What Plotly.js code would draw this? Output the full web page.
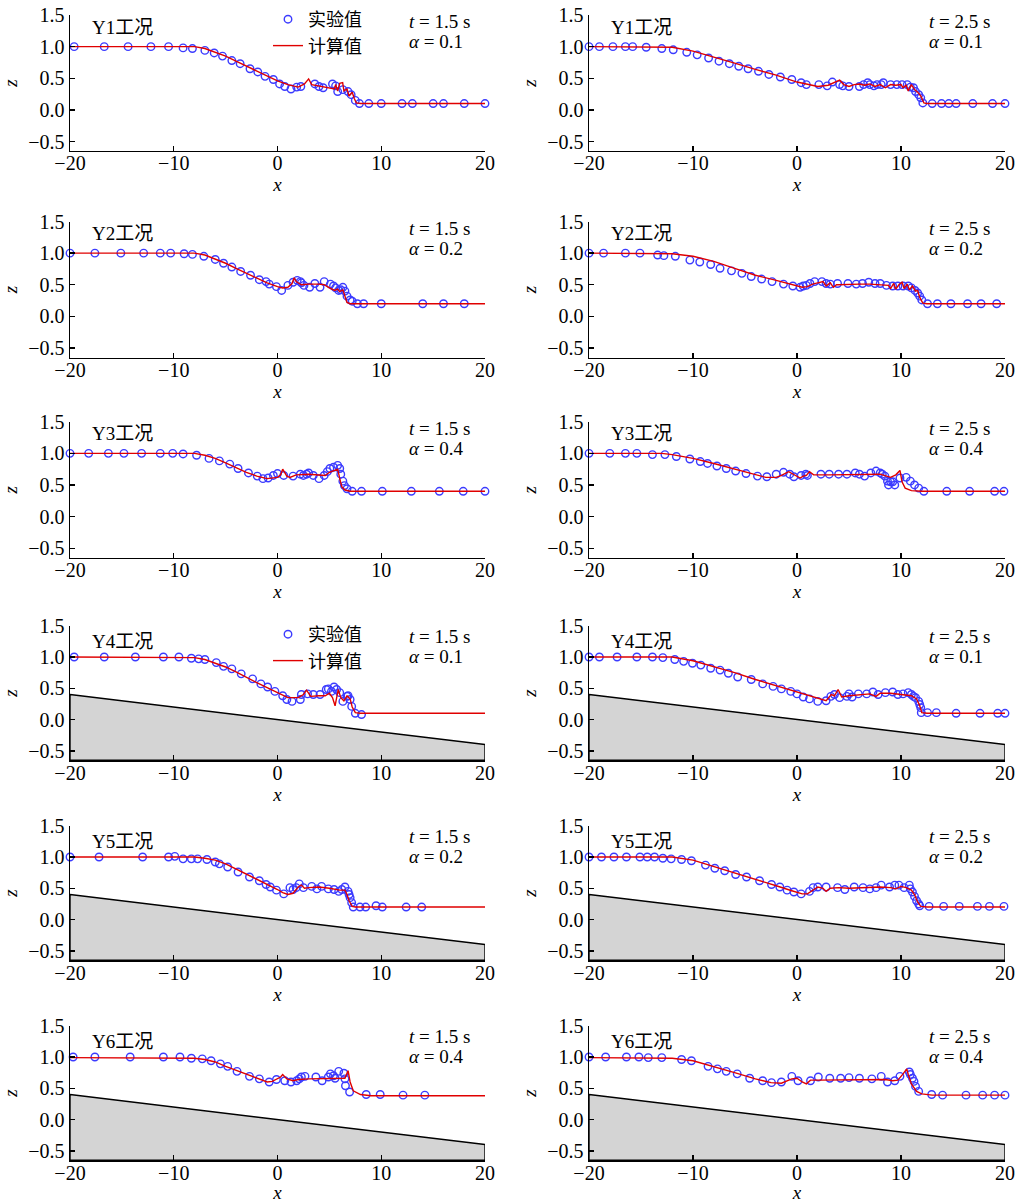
<!DOCTYPE html>
<html>
<head>
<meta charset="utf-8">
<script src="https://cdn.plot.ly/plotly-3.0.1.min.js"></script>
<style>html,body{margin:0;padding:0;background:#fff;}</style>
</head>
<body>
<div id="chart" style="width:1017px;height:1203px;"></div>
<script>
// ---------------- data ----------------
const caseLabels = ['Y1工况','Y2工况','Y3工况','Y4工况','Y5工况','Y6工况'];
const timeLabels = ['1.5','2.5'];
const alphaLabels = ['0.1','0.2','0.4','0.1','0.2','0.4'];
const xTicks = [-20,-10,0,10,20];
const zTicks = [-0.5,0,0.5,1.0,1.5];
const bedX = [-20, 20];
const bedZ = [0.4, -0.4];
const bedFloor = -0.65;

// Y1, t = 1.5 s
const y1_t15_exp_x = [-19.6,-16.7,-14.4,-12.2,-10.5,-9.1,-8.2,-7.0,-6.1,-5.3,-4.4,-3.6,-2.65,-1.9,-1.2,-0.4,0.2,0.7,1.3,1.85,2.25,3.6,4.0,4.4,5.3,5.6,5.8,6.3,6.8,7.1,7.5,7.9,8.8,10.0,12.0,13.0,15.0,16.0,18.0,20.0];
const y1_t15_exp_z = [1.0,1.0,1.0,1.0,1.0,0.98,0.97,0.94,0.90,0.85,0.78,0.73,0.65,0.60,0.53,0.48,0.41,0.37,0.33,0.36,0.37,0.41,0.37,0.35,0.41,0.38,0.29,0.32,0.29,0.24,0.15,0.10,0.10,0.10,0.10,0.10,0.10,0.10,0.10,0.10];
const y1_t15_cal_x = [-20,-8,-7,-6,-5,-4,-3,-2,-1,0,1,2,2.6,3.0,3.3,4,5,5.5,5.6,5.8,6.0,6.28,6.4,6.7,6.9,7.2,7.4,7.6,8,20];
const y1_t15_cal_z = [1.0,1.0,0.97,0.91,0.85,0.77,0.69,0.61,0.53,0.46,0.40,0.36,0.41,0.49,0.40,0.38,0.34,0.33,0.40,0.30,0.42,0.43,0.30,0.33,0.22,0.28,0.18,0.11,0.10,0.10];

// Y1, t = 2.5 s
const y1_t25_exp_x = [-20,-19.0,-17.7,-16.5,-15.8,-14.5,-13.0,-11.9,-10.6,-9.6,-8.5,-7.5,-6.5,-5.6,-4.7,-3.7,-2.7,-1.6,-0.5,0.4,0.9,2.1,2.9,3.4,4.1,4.4,5.0,6.0,6.4,6.8,7.0,7.4,7.7,8.1,8.3,9.0,9.6,10.1,10.6,10.9,11.2,11.4,11.7,11.9,12.1,13.0,13.9,14.6,15.3,16.9,18.8,20.0];
const y1_t25_exp_z = [1.0,1.0,1.0,1.0,1.0,0.99,0.97,0.95,0.91,0.87,0.82,0.77,0.73,0.69,0.65,0.61,0.56,0.52,0.48,0.43,0.40,0.40,0.38,0.44,0.40,0.38,0.37,0.37,0.40,0.43,0.40,0.38,0.40,0.40,0.43,0.40,0.40,0.40,0.40,0.36,0.35,0.29,0.24,0.19,0.11,0.10,0.10,0.10,0.10,0.10,0.10,0.10];
const y1_t25_cal_x = [-20,-12,-10,-8,-6,-4,-2,0,1,2,3,3.6,4.1,4.5,5,5.5,6,6.5,7,7.5,8,8.5,9,9.5,10,10.2,10.5,10.7,11.0,11.3,11.6,11.9,12.2,12.5,20];
const y1_t25_cal_z = [1.0,0.99,0.93,0.84,0.74,0.64,0.55,0.44,0.40,0.37,0.39,0.44,0.47,0.40,0.37,0.40,0.41,0.39,0.41,0.37,0.40,0.35,0.40,0.39,0.40,0.35,0.39,0.30,0.40,0.32,0.28,0.22,0.11,0.10,0.10];

// Y2, t = 1.5 s
const y2_t15_exp_x = [-20,-17.6,-15.1,-12.9,-11.3,-10.3,-9.0,-8.2,-7.1,-6.0,-5.2,-4.4,-3.55,-2.6,-1.75,-1.1,-0.8,-0.1,0.4,1.0,1.5,1.9,2.2,2.3,2.55,3.1,3.6,4.1,4.5,5.1,5.4,5.6,5.9,6.1,6.3,6.5,6.7,7.0,7.2,7.7,8.3,10.0,14.0,16.0,18.0];
const y2_t15_exp_z = [1.0,1.0,1.0,1.0,1.0,1.0,0.99,0.98,0.95,0.90,0.84,0.78,0.71,0.65,0.58,0.55,0.51,0.47,0.41,0.49,0.54,0.57,0.55,0.53,0.49,0.46,0.52,0.46,0.55,0.51,0.48,0.45,0.41,0.42,0.46,0.40,0.32,0.26,0.24,0.20,0.20,0.20,0.20,0.20,0.20];
const y2_t15_cal_x = [-20,-8,-7,-6,-5,-4,-3,-2,-1,0,0.5,1.0,1.4,1.6,1.8,2.3,3,4,4.5,5,5.5,5.8,6.0,6.3,6.5,6.7,7.0,20];
const y2_t15_cal_z = [1.0,1.0,0.97,0.91,0.84,0.76,0.68,0.61,0.53,0.47,0.45,0.46,0.52,0.61,0.55,0.50,0.51,0.51,0.50,0.45,0.41,0.43,0.39,0.42,0.30,0.22,0.20,0.20];

// Y2, t = 2.5 s
const y2_t25_exp_x = [-20,-18.6,-16.5,-15.1,-13.4,-12.8,-11.7,-10.3,-9.35,-8.3,-7.4,-6.3,-5.3,-4.4,-3.4,-2.4,-1.3,-0.4,0.3,0.6,0.9,1.25,1.7,2.4,2.8,3.2,3.9,4.9,5.7,6.3,6.9,7.5,8.0,8.6,9.2,9.7,10.2,10.7,11.0,11.35,11.6,11.8,12.0,12.55,13.5,14.8,16.4,17.7,19.2];
const y2_t25_exp_z = [1.0,1.0,1.0,1.0,0.97,0.96,0.95,0.89,0.86,0.82,0.76,0.72,0.68,0.63,0.59,0.55,0.51,0.48,0.46,0.48,0.49,0.52,0.55,0.55,0.52,0.51,0.52,0.52,0.51,0.52,0.54,0.52,0.52,0.49,0.48,0.48,0.48,0.48,0.45,0.41,0.37,0.32,0.26,0.20,0.20,0.20,0.20,0.20,0.20];
const y2_t25_cal_x = [-20,-13,-12,-10,-8,-6,-4,-2,0,0.5,1.0,1.5,2.0,2.5,2.8,3.2,3.5,3.8,4,5,6,7,8,8.8,9.0,9.3,9.5,9.8,10.1,10.3,10.6,10.8,11.1,11.4,11.6,11.8,12.1,12.5,20];
const y2_t25_cal_z = [1.0,1.0,0.99,0.95,0.87,0.76,0.65,0.57,0.49,0.46,0.47,0.51,0.53,0.55,0.48,0.53,0.46,0.50,0.50,0.51,0.51,0.51,0.50,0.49,0.44,0.52,0.43,0.50,0.54,0.44,0.51,0.42,0.48,0.40,0.41,0.30,0.21,0.20,0.20];

// Y3, t = 1.5 s
const y3_t15_exp_x = [-20,-18.2,-16.3,-14.8,-13.1,-11.3,-10.1,-9.1,-7.8,-6.6,-5.6,-4.6,-3.8,-2.8,-1.95,-1.4,-0.9,-0.4,0.0,0.6,1.5,2.2,2.5,2.8,3.0,3.45,4.0,4.5,4.8,5.05,5.4,5.8,6.0,6.1,6.3,6.45,6.7,7.2,8.1,10.1,12.9,15.6,17.9,20.0];
const y3_t15_exp_z = [1.0,1.0,1.0,1.0,1.0,1.0,1.0,0.99,0.97,0.92,0.88,0.83,0.76,0.69,0.64,0.60,0.61,0.65,0.68,0.65,0.64,0.67,0.65,0.67,0.69,0.65,0.60,0.65,0.71,0.76,0.78,0.81,0.76,0.67,0.56,0.49,0.44,0.40,0.40,0.40,0.40,0.40,0.40,0.40];
const y3_t15_cal_x = [-20,-8,-7,-6,-5,-4,-3,-2,-1,0,0.3,0.5,0.9,1.2,1.8,3,4,4.6,5.0,5.5,5.8,6.0,6.2,6.5,7,20];
const y3_t15_cal_z = [1.0,1.0,0.97,0.92,0.85,0.77,0.70,0.64,0.60,0.62,0.66,0.75,0.64,0.62,0.66,0.67,0.66,0.65,0.70,0.73,0.75,0.60,0.47,0.42,0.40,0.40];

// Y3, t = 2.5 s
const y3_t25_exp_x = [-20,-18.0,-16.5,-15.4,-13.9,-12.7,-11.6,-10.3,-9.3,-8.6,-7.7,-6.8,-5.9,-4.9,-3.8,-2.9,-2.0,-1.3,-0.7,-0.3,0.4,0.85,1.0,2.3,3.1,4.0,4.8,5.6,6.0,6.5,7.1,7.6,8.0,8.2,8.45,8.7,8.8,9.0,9.2,9.4,9.9,10.5,10.9,11.3,11.7,12.2,14.4,16.6,19.0,19.9];
const y3_t25_exp_z = [1.0,1.0,1.0,1.0,0.98,0.98,0.95,0.91,0.87,0.84,0.80,0.76,0.72,0.68,0.64,0.63,0.67,0.70,0.67,0.63,0.65,0.67,0.65,0.67,0.67,0.67,0.67,0.69,0.67,0.64,0.69,0.72,0.69,0.67,0.64,0.56,0.50,0.55,0.55,0.50,0.61,0.62,0.56,0.50,0.45,0.40,0.40,0.40,0.40,0.40];
const y3_t25_cal_x = [-20,-13,-12,-10,-8,-6,-4,-3,-2,-1.5,-0.8,-0.3,0.3,0.6,0.9,1.2,1.6,3,5,7,8,8.6,9.0,9.5,9.9,10.1,10.4,11,12,20];
const y3_t25_cal_z = [1.0,1.0,0.98,0.92,0.84,0.75,0.67,0.62,0.62,0.65,0.71,0.67,0.61,0.64,0.65,0.71,0.66,0.66,0.66,0.66,0.67,0.64,0.62,0.66,0.73,0.55,0.45,0.41,0.40,0.40];

// Y4, t = 1.5 s
const y4_t15_exp_x = [-19.6,-16.7,-13.7,-11.0,-9.5,-8.3,-7.6,-7.0,-5.9,-5.2,-4.4,-3.5,-2.4,-1.6,-0.95,-0.25,0.5,0.9,1.4,2.2,2.3,2.9,3.45,4.1,4.7,4.9,5.2,5.45,5.7,6.0,6.3,6.7,6.8,7.0,7.15,7.5,8.1];
const y4_t15_exp_z = [1.0,1.0,1.0,1.0,1.0,0.98,0.97,0.96,0.91,0.85,0.81,0.73,0.65,0.57,0.52,0.45,0.38,0.32,0.29,0.32,0.40,0.41,0.40,0.40,0.48,0.49,0.45,0.52,0.48,0.43,0.29,0.37,0.38,0.32,0.21,0.10,0.08];
const y4_t15_cal_x = [-20,-9,-8,-7,-6,-5,-4,-3,-2,-1,0,0.5,1,2,2.5,2.8,3.2,4,4.6,5.0,5.3,5.55,5.85,6.1,6.4,6.7,7.0,7.2,7.5,8,20];
const y4_t15_cal_z = [1.0,1.0,0.99,0.96,0.90,0.84,0.76,0.67,0.59,0.51,0.43,0.38,0.35,0.35,0.40,0.47,0.37,0.38,0.38,0.42,0.35,0.22,0.48,0.35,0.30,0.38,0.33,0.20,0.11,0.10,0.10];

// Y4, t = 2.5 s
const y4_t25_exp_x = [-20,-19.0,-17.3,-15.4,-13.9,-12.9,-11.75,-10.9,-10.05,-9.25,-8.3,-7.4,-6.6,-5.7,-4.4,-3.3,-2.3,-1.5,-0.6,0.0,0.6,1.2,2.0,2.8,3.25,3.6,4.1,4.8,5.0,5.3,5.9,6.7,7.3,7.8,8.5,9.2,9.7,10.2,10.7,11.0,11.2,11.4,11.7,11.8,11.9,11.95,12.55,13.4,15.3,17.6,19.3,20.0];
const y4_t25_exp_z = [1.0,1.0,1.0,1.0,1.0,0.99,0.96,0.93,0.90,0.87,0.82,0.79,0.74,0.68,0.64,0.57,0.53,0.49,0.45,0.41,0.36,0.33,0.29,0.30,0.37,0.40,0.35,0.37,0.41,0.36,0.41,0.41,0.44,0.40,0.43,0.44,0.40,0.41,0.43,0.40,0.37,0.35,0.29,0.24,0.19,0.11,0.11,0.11,0.10,0.10,0.10,0.10];
const y4_t25_cal_x = [-20,-12,-10,-8,-6,-4,-2,0,1,2,2.8,3.3,3.6,3.95,4.3,5,6,7,7.6,8,9,10,11,11.5,11.8,12.0,12.5,20];
const y4_t25_cal_z = [1.0,1.0,0.94,0.85,0.75,0.64,0.54,0.44,0.38,0.33,0.30,0.40,0.38,0.48,0.36,0.38,0.40,0.41,0.37,0.42,0.42,0.40,0.38,0.33,0.22,0.11,0.10,0.10];

// Y5, t = 1.5 s
const y5_t15_exp_x = [-20,-17.2,-13.0,-10.5,-9.9,-9.1,-8.3,-7.7,-6.8,-6.0,-5.6,-4.8,-3.8,-2.7,-1.75,-1.1,-0.7,-0.1,0.6,1.2,1.5,1.8,2.1,2.5,3.3,3.8,4.25,4.9,5.45,5.9,6.2,6.5,6.8,6.9,7.0,7.15,7.3,7.95,8.5,9.5,10.1,12.4,13.9];
const y5_t15_exp_z = [1.0,1.0,1.0,1.0,1.01,0.97,0.97,0.97,0.96,0.92,0.89,0.84,0.76,0.68,0.62,0.56,0.52,0.47,0.41,0.51,0.48,0.51,0.57,0.51,0.53,0.49,0.53,0.49,0.48,0.45,0.48,0.52,0.45,0.40,0.35,0.27,0.20,0.20,0.20,0.22,0.20,0.20,0.20];
const y5_t15_cal_x = [-20,-8,-7,-6,-5,-4,-3,-2,-1,0,0.5,1,1.5,2.0,2.3,2.6,3,4,5,6,6.5,6.7,6.9,7.2,7.5,20];
const y5_t15_cal_z = [1.0,1.0,0.98,0.95,0.89,0.81,0.72,0.64,0.57,0.48,0.43,0.40,0.42,0.52,0.55,0.50,0.51,0.52,0.50,0.47,0.47,0.40,0.30,0.21,0.20,0.20];

// Y5, t = 2.5 s
const y5_t25_exp_x = [-20,-18.8,-17.6,-16.4,-15.1,-14.4,-13.7,-12.9,-12.1,-11.1,-10.15,-8.8,-7.9,-6.95,-5.9,-4.85,-3.6,-2.45,-1.65,-0.95,-0.3,0.4,1.2,1.55,2.0,2.8,3.9,4.6,5.5,6.35,7.0,7.6,8.1,8.9,9.4,9.8,10.3,10.8,10.9,11.1,11.3,11.5,11.7,11.8,12.7,14.1,15.6,17.35,18.5,19.9];
const y5_t25_exp_z = [1.0,1.0,1.0,1.0,1.0,1.0,1.0,0.98,0.97,0.96,0.94,0.87,0.82,0.78,0.72,0.68,0.62,0.56,0.52,0.47,0.44,0.41,0.45,0.51,0.52,0.52,0.51,0.48,0.52,0.51,0.49,0.51,0.55,0.52,0.55,0.55,0.51,0.55,0.49,0.44,0.37,0.30,0.25,0.22,0.21,0.21,0.21,0.21,0.21,0.21];
const y5_t25_cal_x = [-20,-12,-10,-8,-6,-4,-2,-0.5,0.5,1.0,1.5,2.0,2.5,2.8,3.2,4,5,6,7,8,9,9.5,10,10.5,11,11.3,11.6,11.9,12.5,20];
const y5_t25_cal_z = [1.0,1.0,0.95,0.85,0.74,0.64,0.54,0.46,0.41,0.41,0.47,0.52,0.50,0.45,0.50,0.51,0.50,0.51,0.51,0.52,0.51,0.49,0.53,0.51,0.47,0.40,0.28,0.21,0.20,0.20];

// Y6, t = 1.5 s
const y6_t15_exp_x = [-19.7,-17.6,-14.2,-11.0,-9.4,-8.3,-7.25,-6.4,-5.5,-4.8,-3.9,-2.7,-1.75,-0.8,-0.1,0.7,1.3,1.85,2.1,2.3,2.65,3.7,4.3,4.9,5.1,5.4,5.55,5.9,6.4,6.5,6.55,6.95,8.55,9.9,12.1,14.2];
const y6_t15_exp_z = [1.0,1.0,1.0,1.0,1.0,0.98,0.97,0.94,0.89,0.85,0.77,0.69,0.65,0.60,0.64,0.62,0.60,0.62,0.65,0.68,0.69,0.68,0.62,0.68,0.73,0.70,0.66,0.77,0.74,0.65,0.54,0.44,0.40,0.40,0.39,0.39];
const y6_t15_cal_x = [-20,-9,-8,-7,-6,-5,-4,-3,-2,-1,-0.5,0,0.3,0.5,0.9,1.5,2,3,4,5,6,6.5,6.8,7.0,7.3,8,9,20];
const y6_t15_cal_z = [0.99,0.99,0.98,0.96,0.92,0.85,0.79,0.73,0.66,0.60,0.61,0.65,0.68,0.72,0.65,0.62,0.64,0.65,0.65,0.65,0.65,0.66,0.78,0.60,0.46,0.40,0.38,0.38];

// Y6, t = 2.5 s
const y6_t25_exp_x = [-20,-18.4,-16.4,-15.2,-14.3,-13.0,-11.1,-10.15,-8.55,-7.65,-6.8,-5.75,-4.55,-3.3,-2.45,-1.5,-0.5,0.1,1.3,2.05,3.15,4.2,5.0,6.0,7.2,8.1,8.7,9.4,9.9,10.8,10.9,11.1,11.25,11.4,11.7,12.95,14.0,16.25,17.85,19.0,20.0];
const y6_t25_exp_z = [1.0,1.0,1.0,1.0,0.99,0.99,0.96,0.94,0.85,0.81,0.77,0.73,0.66,0.62,0.59,0.60,0.69,0.62,0.62,0.68,0.66,0.66,0.67,0.66,0.65,0.69,0.60,0.62,0.69,0.76,0.72,0.66,0.61,0.53,0.45,0.40,0.39,0.39,0.39,0.39,0.39];
const y6_t25_cal_x = [-20,-13,-12,-10,-8,-6,-4,-2.5,-1.5,-0.5,0,0.5,0.9,1.3,2,3,4,5,6,7,8,8.5,9.2,9.7,10.2,10.55,10.7,11.0,11.5,12,13,20];
const y6_t25_cal_z = [0.99,0.99,0.98,0.94,0.85,0.75,0.65,0.59,0.58,0.65,0.66,0.60,0.57,0.63,0.63,0.63,0.64,0.64,0.63,0.63,0.64,0.64,0.62,0.63,0.73,0.81,0.72,0.57,0.45,0.41,0.39,0.39];

const panelData = [
  [y1_t15_exp_x, y1_t15_exp_z, y1_t15_cal_x, y1_t15_cal_z],
  [y1_t25_exp_x, y1_t25_exp_z, y1_t25_cal_x, y1_t25_cal_z],
  [y2_t15_exp_x, y2_t15_exp_z, y2_t15_cal_x, y2_t15_cal_z],
  [y2_t25_exp_x, y2_t25_exp_z, y2_t25_cal_x, y2_t25_cal_z],
  [y3_t15_exp_x, y3_t15_exp_z, y3_t15_cal_x, y3_t15_cal_z],
  [y3_t25_exp_x, y3_t25_exp_z, y3_t25_cal_x, y3_t25_cal_z],
  [y4_t15_exp_x, y4_t15_exp_z, y4_t15_cal_x, y4_t15_cal_z],
  [y4_t25_exp_x, y4_t25_exp_z, y4_t25_cal_x, y4_t25_cal_z],
  [y5_t15_exp_x, y5_t15_exp_z, y5_t15_cal_x, y5_t15_cal_z],
  [y5_t25_exp_x, y5_t25_exp_z, y5_t25_cal_x, y5_t25_cal_z],
  [y6_t15_exp_x, y6_t15_exp_z, y6_t15_cal_x, y6_t15_cal_z],
  [y6_t25_exp_x, y6_t25_exp_z, y6_t25_cal_x, y6_t25_cal_z]
];
const legendNames = ['实验值', '计算值'];

// ---------------- layout ----------------
const W = 1017, H = 1203, MB = 40;
const PH = H - MB;               // plot-area height (top margin 0)
const colPx = [[70, 485], [589, 1005]];
const rowTopPx = [15, 221.5, 421.7, 625.7, 825.7, 1025.7];
const rowHPx = [136, 136, 136, 134.5, 134.5, 134.5];
const SERIF = 'Liberation Serif, Times New Roman, serif';
const MIXED = 'Liberation Serif, Noto Sans CJK SC, serif';
const CJK = 'Noto Sans CJK SC, sans-serif';
const BLUE = '#3b3bff';
const RED = '#e00000';

const traces = [];
const layout = {
  width: W, height: H,
  margin: {l: 0, r: 0, t: 0, b: MB},
  paper_bgcolor: '#fff', plot_bgcolor: 'rgba(0,0,0,0)',
  showlegend: true,
  annotations: [],
  legend: {
    x: 268 / W, y: 1 - 1 / PH, xanchor: 'left', yanchor: 'top',
    bgcolor: 'rgba(0,0,0,0)', font: {family: CJK, size: 18, color: '#000'},
    tracegroupgap: 0, itemwidth: 30
  },
  legend2: {
    x: 268 / W, y: 1 - 616 / PH, xanchor: 'left', yanchor: 'top',
    bgcolor: 'rgba(0,0,0,0)', font: {family: CJK, size: 18, color: '#000'},
    tracegroupgap: 0, itemwidth: 30
  }
};

const axisCommon = {
  showline: true, linecolor: '#000', linewidth: 1.4,
  ticks: 'inside', ticklen: 5, tickwidth: 1.4, tickcolor: '#000',
  showgrid: false, zeroline: false,
  tickfont: {family: SERIF, size: 20, color: '#000'}
};

for (let i = 0; i < 12; i++) {
  const row = Math.floor(i / 2), col = i % 2;
  const n = i + 1;
  const xa = n === 1 ? 'x' : 'x' + n;
  const ya = n === 1 ? 'y' : 'y' + n;
  const xk = n === 1 ? 'xaxis' : 'xaxis' + n;
  const yk = n === 1 ? 'yaxis' : 'yaxis' + n;
  const top = rowTopPx[row], h = rowHPx[row];
  layout[xk] = Object.assign({}, axisCommon, {
    domain: [colPx[col][0] / W, colPx[col][1] / W],
    anchor: ya, range: [-20, 20], tickvals: xTicks,
    ticklabelstandoff: -6,
    title: {text: '<i>x</i>', font: {family: SERIF, size: 19, color: '#000'}, standoff: 0}
  });
  layout[yk] = Object.assign({}, axisCommon, {
    domain: [1 - (top + h) / PH, 1 - top / PH],
    anchor: xa, range: [-0.65, 1.5], tickvals: zTicks, tickformat: '.1f',
    title: {text: '<i>z</i>', font: {family: SERIF, size: 19, color: '#000'}, standoff: 5}
  });

  const [ex, ez, cx, cz] = panelData[i];
  const withBed = row >= 3;
  if (withBed) {
    traces.push({
      x: [bedX[0], bedX[1], bedX[1], bedX[0], bedX[0]],
      y: [bedZ[0], bedZ[1], bedFloor, bedFloor, bedZ[0]],
      xaxis: xa, yaxis: ya, mode: 'lines', fill: 'toself',
      fillcolor: '#d4d4d4', line: {color: '#000', width: 1.4},
      showlegend: false, hoverinfo: 'skip'
    });
  }
  const legendId = (i === 0) ? 'legend' : (i === 6 ? 'legend2' : null);
  traces.push({
    x: ex, y: ez, xaxis: xa, yaxis: ya, mode: 'markers', type: 'scatter',
    name: legendNames[0], cliponaxis: false,
    marker: {symbol: 'circle-open', size: 7.5, color: BLUE, line: {width: 1.4, color: BLUE}},
    showlegend: legendId !== null, legend: legendId || 'legend'
  });
  traces.push({
    x: cx, y: cz, xaxis: xa, yaxis: ya, mode: 'lines', type: 'scatter',
    name: legendNames[1], cliponaxis: false,
    line: {color: RED, width: 1.4},
    showlegend: legendId !== null, legend: legendId || 'legend'
  });

  const yLab = withBed ? 1.246 : 1.31;
  const yT = withBed ? 1.325 : 1.39;
  const yA = withBed ? 1.008 : 1.076;
  layout.annotations.push({
    xref: xa, yref: ya, x: -18.1, y: yLab, xanchor: 'left', yanchor: 'middle',
    text: caseLabels[row], showarrow: false, font: {family: MIXED, size: 19, color: '#000'}
  });
  layout.annotations.push({
    xref: xa, yref: ya, x: 12.5, y: yT, xanchor: 'left', yanchor: 'middle',
    text: '<i>t</i> = ' + timeLabels[col] + ' s', showarrow: false,
    font: {family: SERIF, size: 19, color: '#000'}
  });
  layout.annotations.push({
    xref: xa, yref: ya, x: 12.5, y: yA, xanchor: 'left', yanchor: 'middle',
    text: '<i>α</i> = ' + alphaLabels[row], showarrow: false,
    font: {family: SERIF, size: 19, color: '#000'}
  });
}

Plotly.newPlot('chart', traces, layout, {displayModeBar: false, staticPlot: true});
</script>
</body>
</html>
